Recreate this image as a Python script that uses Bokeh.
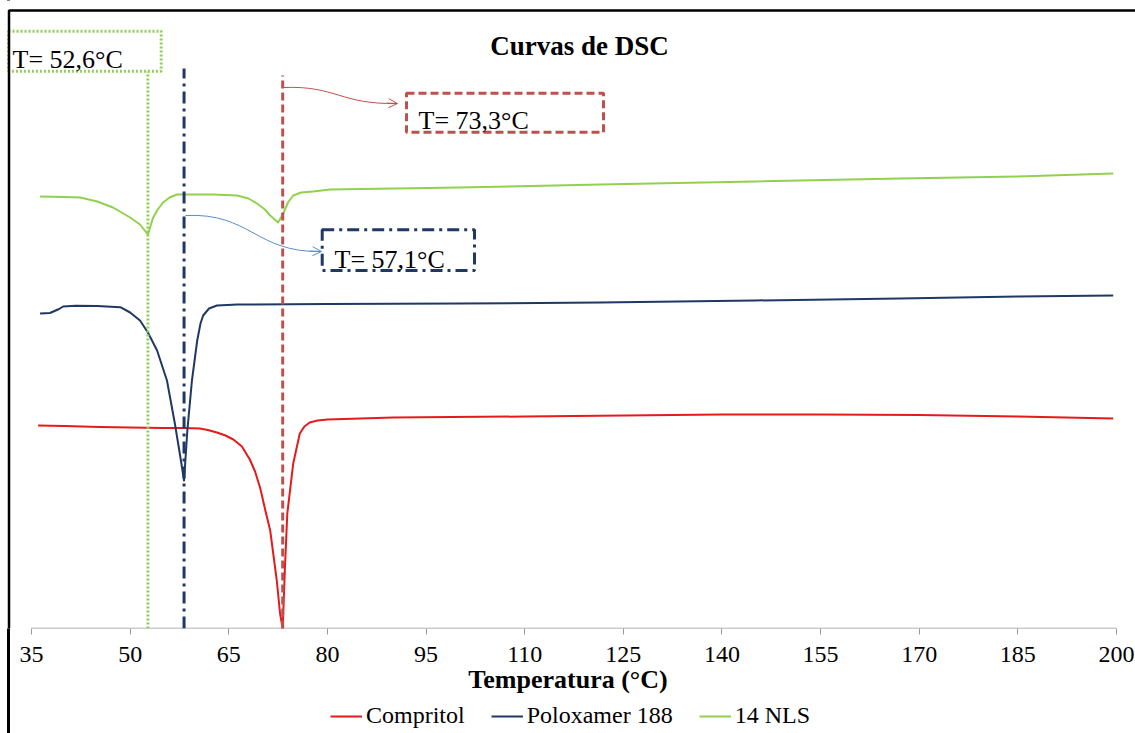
from bokeh.plotting import figure
from bokeh.layouts import column
from bokeh.models import (Range1d, FixedTicker, Legend, LegendItem, Label,
                          BoxAnnotation, Arrow, OpenHead)
from bokeh.embed import file_html
from bokeh.resources import INLINE

# ---------------- data ----------------
ticks = [35, 50, 65, 80, 95, 110, 125, 140, 155, 170, 185, 200]

comp_T = [36.0, 40.0, 45.4, 50.0, 55.0, 58.0, 60.6, 61.8, 63.2, 64.5, 65.7, 67.0, 68.2, 69.0,
          69.8, 70.6, 71.3, 72.3, 72.8, 73.2, 73.55, 73.9, 74.8, 75.8, 76.5, 77.3, 78.5, 80.0,
          90.0, 110.0, 125.0, 140.0, 155.0, 170.0, 185.0, 199.5]
comp_y = [203, 202.5, 201.5, 201, 200.5, 200.5, 200, 198.5, 196, 193, 189, 182, 169, 157,
          140, 117, 98, 48, 15, 0, 62, 115, 165, 195, 202, 206, 208, 209,
          211, 212, 213, 214, 214, 213.5, 212, 210]

polo_T = [36.3, 37.8, 39.2, 39.8, 41.7, 45.0, 48.5, 50.0, 51.5, 52.7, 54.1, 55.6, 56.8, 57.6,
          58.2, 58.7, 59.4, 60.2, 60.7, 61.1, 62.0, 63.2, 66.3, 80.0, 100.0, 121.5, 145.0,
          167.0, 185.0, 199.5]
polo_y = [315, 315.5, 319.5, 322, 322.7, 322.5, 321.3, 316, 308, 296, 278, 248, 205, 173,
          148, 198, 248, 288, 305, 313, 320, 323, 324, 324.5, 325, 326, 328,
          330, 332, 333]

nls_T = [36.3, 40.0, 42.4, 45.0, 47.4, 50.0, 51.5, 52.7, 53.5, 54.2, 55.0, 56.0, 57.1, 60.0,
         62.6, 66.3, 68.0, 69.3, 70.5, 71.3, 72.5, 73.3, 74.0, 74.8, 76.0, 77.8, 80.4, 100.0,
         121.5, 145.0, 167.1, 185.0, 199.5]
nls_y = [432, 431.5, 431, 427, 421, 411, 404, 394, 411, 419, 426, 431, 434, 434,
         434, 433, 430, 425, 419, 413, 406, 415, 426, 433, 436, 437, 439, 441,
         444, 447, 450, 452, 455]

series_names = ["Compritol", "Poloxamer 188", "14 NLS"]
peak_T = [52.7, 58.2, 73.2]          # positions of the marker lines as drawn
peak_labels = ["T= 52,6°C", "T= 57,1°C", "T= 73,3°C"]

# ---------------- styling ----------------
FONT = "Liberation Serif"
RED = "#E31B1B"
NAVY = "#1F3864"
GREEN = "#92D050"
RED_MARK = "#C0504D"
BLUE_ARROW = "#5B8BC7"

W = 1135
H_MAIN, H_LEG = 700, 33
AXIS_PX = 628            # page row of the x axis
X35_PX, X200_PX = 31, 1116
PPU = (X200_PX - X35_PX) / 165.0
x_start = 35 - X35_PX / PPU
x_end = x_start + W / PPU


def DX(px):
    return x_start + px / PPU


def DY(py):
    return AXIS_PX - py


p = figure(width=W, height=H_MAIN, output_backend="svg", toolbar_location=None,
           x_range=Range1d(x_start, x_end), y_range=Range1d(0, AXIS_PX),
           y_axis_location=None,
           min_border_left=0, min_border_right=0, min_border_top=0,
           min_border_bottom=H_MAIN - AXIS_PX)
p.outline_line_color = None
p.xgrid.visible = False
p.ygrid.visible = False
p.background_fill_color = "white"
p.border_fill_color = None

ax = p.xaxis[0]
ax.ticker = FixedTicker(ticks=ticks)
ax.axis_line_color = None
ax.major_tick_line_color = "#9A9A9A"
ax.major_tick_out = 6
ax.major_tick_in = 0
ax.minor_tick_line_color = None
ax.major_label_text_font = FONT
ax.major_label_text_font_size = "24px"
ax.major_label_text_color = "black"
ax.major_label_standoff = 12
ax.axis_label = "Temperatura (°C)"
ax.axis_label_text_font = FONT
ax.axis_label_text_font_size = "26px"
ax.axis_label_text_font_style = "bold"
ax.axis_label_text_color = "black"
ax.axis_label_standoff = 0

# axis line only over the 35-200 span
p.segment(x0=[ticks[0]], y0=[0], x1=[ticks[-1]], y1=[0], line_color="#9A9A9A", line_width=1.5)

# curves
r_comp = p.line(comp_T, comp_y, line_color=RED, line_width=2, line_join="round")
r_polo = p.line(polo_T, polo_y, line_color=NAVY, line_width=2, line_join="round")
r_nls = p.line(nls_T, nls_y, line_color=GREEN, line_width=2, line_join="round")

# marker lines
p.segment(x0=[peak_T[0]], y0=[0], x1=[peak_T[0]], y1=[DY(71)],
          line_color=GREEN, line_width=3, line_dash="2 2")
p.segment(x0=[peak_T[1]], y0=[0], x1=[peak_T[1]], y1=[DY(68)],
          line_color=NAVY, line_width=3, line_dash="12 5 3 5")
p.segment(x0=[peak_T[2]], y0=[0], x1=[peak_T[2]], y1=[DY(75)],
          line_color=RED_MARK, line_width=3, line_dash="8 4")

# curved arrows
p.bezier(x0=[DX(283.5)], y0=[DY(87)], x1=[DX(396)], y1=[DY(103)],
         cx0=[DX(335)], cy0=[DY(85)], cx1=[DX(340)], cy1=[DY(104)],
         line_color=RED_MARK, line_width=1)
p.add_layout(Arrow(end=OpenHead(size=9, line_color=RED_MARK, line_width=1),
                   x_start=DX(386), y_start=DY(102.6), x_end=DX(397), y_end=DY(103),
                   line_color=RED_MARK, line_width=1))
p.bezier(x0=[DX(185)], y0=[DY(215)], x1=[DX(320)], y1=[DY(251)],
         cx0=[DX(250)], cy0=[DY(212)], cx1=[DX(255)], cy1=[DY(252)],
         line_color=BLUE_ARROW, line_width=1)
p.add_layout(Arrow(end=OpenHead(size=9, line_color=BLUE_ARROW, line_width=1),
                   x_start=DX(309), y_start=DY(250.6), x_end=DX(321), y_end=DY(251),
                   line_color=BLUE_ARROW, line_width=1))


def box(l, r, t, b, color, dash, width=3):
    p.add_layout(BoxAnnotation(left=DX(l), right=DX(r), top=DY(t), bottom=DY(b),
                               fill_alpha=0, line_alpha=1, line_color=color,
                               line_width=width, line_dash=dash))


# annotation boxes
box(8, 160.7, 30.7, 70.7, GREEN, "2 2")
box(406, 603, 92.7, 131.7, RED_MARK, "8 4")
box(321.7, 474, 229.3, 270, NAVY, "12 5 3 5")
# outer frame of the picture (left and top edges visible)
box(8.5, 3000, 10, 3000, "black", "solid", width=2.5)

# texts
for txt, px, py in [(peak_labels[0], 12, 58.5), (peak_labels[2], 418, 120),
                    (peak_labels[1], 334, 258.5)]:
    p.add_layout(Label(x=DX(px), y=DY(py), text=txt,
                       text_font=FONT, text_font_size="26px", text_color="black",
                       text_baseline="alphabetic", text_align="left"))

p.add_layout(Label(x=DX(579), y=DY(45), text="Curvas de DSC", text_font=FONT,
                   text_font_size="27px", text_font_style="bold", text_color="black",
                   text_baseline="alphabetic", text_align="center"))

# ---------------- legend strip under the axis ----------------
q = figure(width=W, height=H_LEG, output_backend="svg", toolbar_location=None,
           x_range=Range1d(0, W), y_range=Range1d(0, H_LEG),
           x_axis_location=None, y_axis_location=None,
           min_border_left=0, min_border_right=0, min_border_top=0, min_border_bottom=0)
q.outline_line_color = None
q.xgrid.visible = False
q.ygrid.visible = False
q.background_fill_color = None
q.border_fill_color = None

colors = [RED, NAVY, GREEN]
# stand-in renderers (placed outside the visible strip) that carry the legend styles
leg_r = [q.line([-50, -40], [-50, -50], line_color=c, line_width=2) for c in colors]
legend = Legend(items=[LegendItem(label=n, renderers=[r]) for n, r in zip(series_names, leg_r)],
                orientation="horizontal", location=(330, 4),
                padding=0, margin=0, spacing=26, label_standoff=4,
                glyph_width=32, glyph_height=16,
                label_text_font=FONT, label_text_font_size="24px",
                label_text_color="black",
                border_line_color=None, background_fill_alpha=0)
q.add_layout(legend)

layout = column(p, q, spacing=0,
                styles={"background": "linear-gradient(to right, white 0px, white 7.5px, "
                                      "black 7.5px, black 10px, white 10px, white 100%)"})

open("out.html", "w").write(file_html(layout, INLINE))
